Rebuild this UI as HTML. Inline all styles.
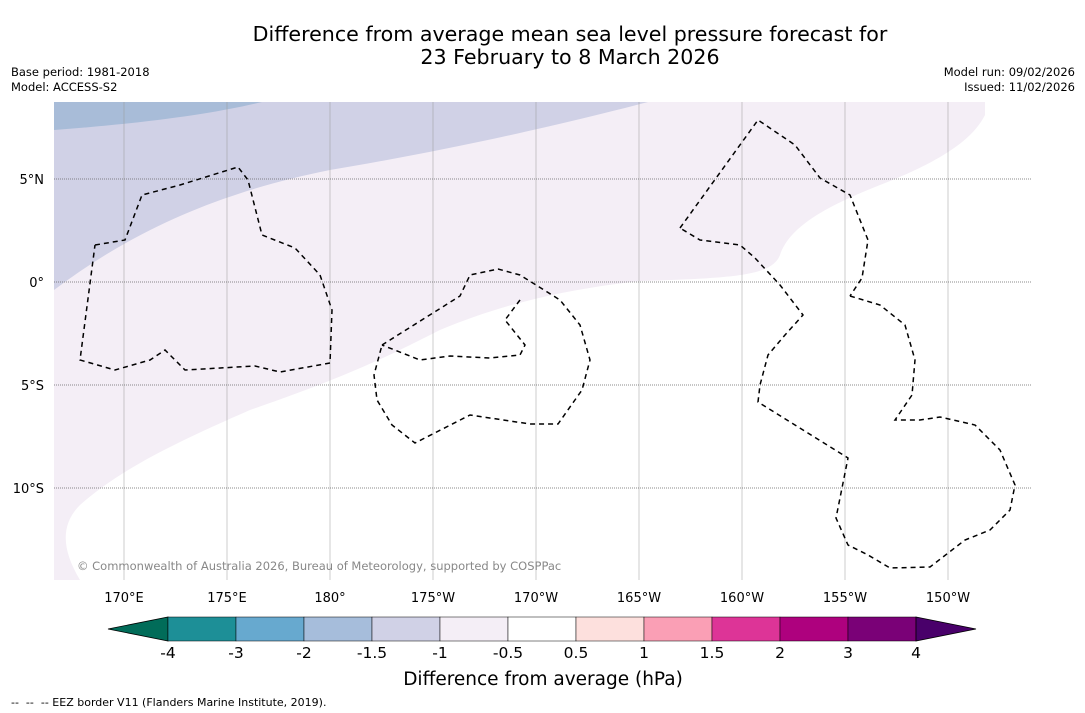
<!DOCTYPE html>
<html><head><meta charset="utf-8"><style>
body{margin:0;background:#fff;width:1085px;height:713px;overflow:hidden;font-family:"DejaVu Sans","Liberation Sans",sans-serif}
svg{display:block}
</style></head><body>
<svg id="s" width="1085" height="713" viewBox="0 0 1085 713" font-family="DejaVu Sans, Liberation Sans, sans-serif">
<text x="570" y="41" font-size="20.6" text-anchor="middle" fill="#000">Difference from average mean sea level pressure forecast for</text>
<text x="570" y="64" font-size="20.6" text-anchor="middle" fill="#000">23 February to 8 March 2026</text>
<text x="11" y="76" font-size="11.5">Base period: 1981-2018</text>
<text x="11" y="91" font-size="11.5">Model: ACCESS-S2</text>
<text x="1075" y="76" font-size="11.5" text-anchor="end">Model run: 09/02/2026</text>
<text x="1075" y="91" font-size="11.5" text-anchor="end">Issued: 11/02/2026</text>
<clipPath id="mc"><rect x="54" y="102" width="977" height="478"/></clipPath>
<g clip-path="url(#mc)">
<rect x="54" y="102" width="977" height="478" fill="#fff"/>
<path fill="#f4eef6" d="M54,102 L985,102 L985,115 C975,135 950,158 880,185 C830,205 790,225 780,255 C772,275 740,278 640,281 C560,290 500,305 440,330 C400,350 360,372 250,410 C170,445 120,470 80,505 C60,525 62,550 80,580 L54,580 Z"/>
<path fill="#d0d1e6" d="M54,102 L648,102 C560,125 450,150 330,170 C230,190 140,225 54,290 Z"/>
<path fill="#a8bcd8" d="M54,102 L262,102 C220,112 160,122 54,130 Z"/>
<g id="grid"></g>
<g id="eez" fill="none" stroke="#000" stroke-width="1.5" stroke-dasharray="5,4"></g>
</g>
<g id="lab" font-size="13" fill="#000"></g>
<text x="77" y="570" font-size="11.5" fill="#888">© Commonwealth of Australia 2026, Bureau of Meteorology, supported by COSPPac</text>
<g id="cb"></g>
<text x="543" y="685" font-size="18.5" text-anchor="middle">Difference from average (hPa)</text>
<text x="11" y="706" font-size="11" xml:space="preserve">--  --  -- EEZ border V11 (Flanders Marine Institute, 2019).</text>
</svg>
<script>
const lonTicks=[170,175,180,185,190,195,200,205,210];
const lonLabels=["170°E","175°E","180°","175°W","170°W","165°W","160°W","155°W","150°W"];
const latTicks=[5,0,-5,-10];
const latLabels=["5°N","0°","5°S","10°S"];
const cbLevels=["-4","-3","-2","-1.5","-1","-0.5","0.5","1","1.5","2","3","4"];
const cbColors=["#1d8f97","#67a9cf","#a6bddb","#d0d1e6","#f4eef6","#ffffff","#fde0dd","#fa9fb5","#dd3497","#ae017e","#7a0177"];
const cbLow="#016c59", cbHigh="#49006a";
const eezLines=[
[[95,245],[125,240],[142,195],[180,185],[238,167],[248,180],[262,235],[295,248],[320,275],[332,310],[330,363],[280,372],[255,366],[185,370],[165,350],[150,360],[115,370],[80,360],[95,245]],
[[382,345],[460,296],[470,275],[498,269],[520,275],[560,300],[580,325],[590,360],[582,390],[558,424],[530,424],[470,415],[415,443],[392,425],[377,400],[374,375],[382,345]],
[[520,300],[505,320],[525,345],[520,355],[490,358],[450,356],[420,360],[382,345]],
[[680,228],[758,120],[795,145],[820,178],[850,195],[868,240],[862,278],[850,296]],
[[850,296],[880,305],[905,325],[915,360],[912,395],[895,420],[920,420],[940,417],[975,425],[1000,450],[1015,485],[1010,510],[990,530],[965,540],[930,567],[890,568],[868,555],[848,545],[836,518],[848,458],[758,402],[760,385],[768,355],[785,335],[803,315],[780,285],[755,258],[740,245],[700,240],[680,228]]
];
const NS="http://www.w3.org/2000/svg";
const X=lon=>124+(lon-170)*20.6, Y=lat=>282-lat*20.6;
function mk(t,a,p){const e=document.createElementNS(NS,t);for(const k in a)e.setAttribute(k,a[k]);p.appendChild(e);return e;}
const g=document.getElementById('grid'),lab=document.getElementById('lab');
lonTicks.forEach((v,i)=>{
 const l=mk('line',{x1:X(v),x2:X(v),y1:102,y2:580,stroke:'#999','stroke-width':0.5},g);
 
 
 const t=mk('text',{x:X(v),y:602,'text-anchor':'middle'},lab);t.textContent=lonLabels[i];
 
 
});
latTicks.forEach((v,i)=>{
 const l=mk('line',{x1:54,x2:1031,y1:Y(v),y2:Y(v),stroke:'#666','stroke-width':0.7,'stroke-dasharray':'1,1'},g);
 
 
 const t=mk('text',{x:44,y:Y(v)+5,'text-anchor':'end'},lab);t.textContent=latLabels[i];
 
 
});
const ez=document.getElementById('eez');
eezLines.forEach(pts=>{
 const p=mk('polyline',{points:pts.map(q=>q.join(',')).join(' ')},ez);
 
 
});
const cb=document.getElementById('cb');
const x0=168,w=68,y0=617,h=24;
const a1=mk('polygon',{points:`108,${y0+h/2} ${x0},${y0} ${x0},${y0+h}`,fill:cbLow,stroke:'#000','stroke-width':0.8},cb);


cbColors.forEach((c,i)=>{
 const r=mk('rect',{x:x0+i*w,y:y0,width:w,height:h,fill:c,stroke:'#000','stroke-width':0.5},cb);
 
 
});
const xe=x0+cbColors.length*w;
const a2=mk('polygon',{points:`${xe},${y0} ${xe+60},${y0+h/2} ${xe},${y0+h}`,fill:cbHigh,stroke:'#000','stroke-width':0.8},cb);


cbLevels.forEach((s,i)=>{
 const t=mk('text',{x:x0+i*w,y:658,'text-anchor':'middle','font-size':15.5},cb);t.textContent=s;
 
 
});
</script>
</body></html>
